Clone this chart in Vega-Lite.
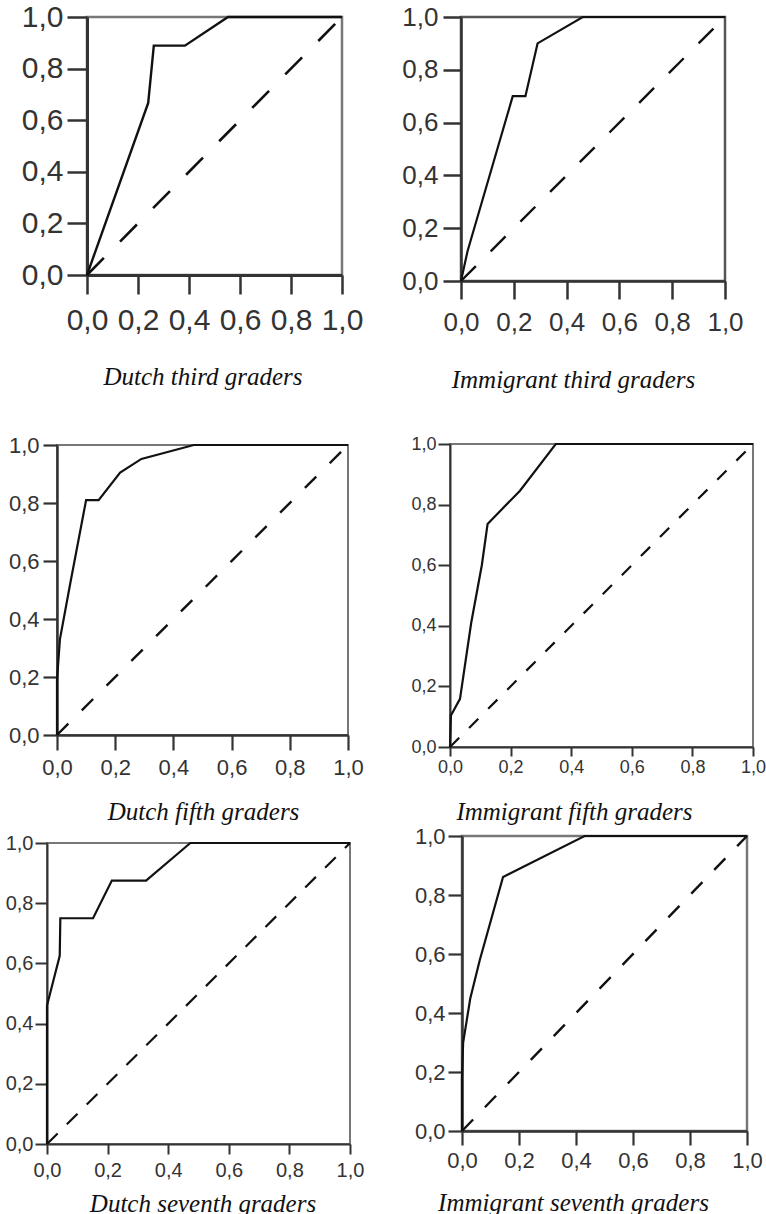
{
  "$schema": "https://vega.github.io/schema/vega-lite/v6.json",
  "padding": 0,
  "background": "white",
  "datasets": {
    "empty": [],
    "diag": [{"i": 0, "fpr": 0, "tpr": 0}, {"i": 1, "fpr": 1, "tpr": 1}],
    "dutch3": [
      {"i": 0, "fpr": 0, "tpr": 0}, {"i": 1, "fpr": 0.24, "tpr": 0.667}, {"i": 2, "fpr": 0.262, "tpr": 0.889},
      {"i": 3, "fpr": 0.384, "tpr": 0.889}, {"i": 4, "fpr": 0.553, "tpr": 1}, {"i": 5, "fpr": 1, "tpr": 1}
    ],
    "imm3": [
      {"i": 0, "fpr": 0, "tpr": 0}, {"i": 1, "fpr": 0.025, "tpr": 0.114}, {"i": 2, "fpr": 0.196, "tpr": 0.7},
      {"i": 3, "fpr": 0.244, "tpr": 0.7}, {"i": 4, "fpr": 0.29, "tpr": 0.9}, {"i": 5, "fpr": 0.461, "tpr": 1}, {"i": 6, "fpr": 1, "tpr": 1}
    ],
    "dutch5": [
      {"i": 0, "fpr": 0, "tpr": 0}, {"i": 1, "fpr": 0, "tpr": 0.19}, {"i": 2, "fpr": 0.01, "tpr": 0.33},
      {"i": 3, "fpr": 0.045, "tpr": 0.52}, {"i": 4, "fpr": 0.1, "tpr": 0.81}, {"i": 5, "fpr": 0.143, "tpr": 0.81},
      {"i": 6, "fpr": 0.217, "tpr": 0.905}, {"i": 7, "fpr": 0.29, "tpr": 0.952}, {"i": 8, "fpr": 0.47, "tpr": 1}, {"i": 9, "fpr": 1, "tpr": 1}
    ],
    "imm5": [
      {"i": 0, "fpr": 0, "tpr": 0}, {"i": 1, "fpr": 0.003, "tpr": 0.104}, {"i": 2, "fpr": 0.033, "tpr": 0.159},
      {"i": 3, "fpr": 0.07, "tpr": 0.41}, {"i": 4, "fpr": 0.105, "tpr": 0.6}, {"i": 5, "fpr": 0.124, "tpr": 0.736},
      {"i": 6, "fpr": 0.231, "tpr": 0.846}, {"i": 7, "fpr": 0.349, "tpr": 1}, {"i": 8, "fpr": 1, "tpr": 1}
    ],
    "dutch7": [
      {"i": 0, "fpr": 0, "tpr": 0}, {"i": 1, "fpr": 0, "tpr": 0.46}, {"i": 2, "fpr": 0.042, "tpr": 0.625},
      {"i": 3, "fpr": 0.044, "tpr": 0.75}, {"i": 4, "fpr": 0.152, "tpr": 0.75}, {"i": 5, "fpr": 0.214, "tpr": 0.875},
      {"i": 6, "fpr": 0.327, "tpr": 0.875}, {"i": 7, "fpr": 0.473, "tpr": 1}, {"i": 8, "fpr": 1, "tpr": 1}
    ],
    "imm7": [
      {"i": 0, "fpr": 0, "tpr": 0}, {"i": 1, "fpr": 0, "tpr": 0.18}, {"i": 2, "fpr": 0.004, "tpr": 0.3},
      {"i": 3, "fpr": 0.029, "tpr": 0.449}, {"i": 4, "fpr": 0.062, "tpr": 0.578}, {"i": 5, "fpr": 0.144, "tpr": 0.861},
      {"i": 6, "fpr": 0.43, "tpr": 1}, {"i": 7, "fpr": 1, "tpr": 1}
    ]
  },
  "vconcat": [
    {
      "hconcat": [
        {"width": 461, "height": 1, "view": {"stroke": null}, "data": {"name": "empty"}, "mark": "point", "encoding": {}},
        {
          "width": 264, "height": 264,
          "view": {"stroke": "#555", "strokeWidth": 2.5},
          "encoding": {
            "x": {"field": "fpr", "type": "quantitative", "scale": {"domain": [0, 1], "nice": false},
              "axis": {"values": [0, 0.2, 0.4, 0.6, 0.8, 1], "labelExpr": "replace(format(datum.value, '.1f'), '.', ',')",
                "labelFont": "Liberation Sans", "labelFontSize": 26, "labelColor": "#333", "labelPadding": 10,
                "labelOverlap": false, "labelFlush": false, "tickSize": 18, "tickWidth": 2.5, "tickColor": "#333",
                "domainColor": "#333", "domainWidth": 2.5, "grid": false,
                "title": "Immigrant third graders", "titleFont": "Liberation Serif", "titleFontStyle": "italic", "titleFontWeight": "normal",
                "titleFontSize": 25, "titleColor": "#111", "titleX": 112, "titleY": 106, "titleBaseline": "alphabetic", "titleAlign": "center"}},
            "y": {"field": "tpr", "type": "quantitative", "scale": {"domain": [0, 1], "nice": false},
              "axis": {"values": [0, 0.2, 0.4, 0.6, 0.8, 1], "labelExpr": "replace(format(datum.value, '.1f'), '.', ',')",
                "labelFont": "Liberation Sans", "labelFontSize": 26, "labelColor": "#333", "labelPadding": 5,
                "labelOverlap": false, "labelFlush": false, "tickSize": 18, "tickWidth": 2.5, "tickColor": "#333",
                "domainColor": "#333", "domainWidth": 2.5, "grid": false, "title": null}}
          },
          "layer": [
            {"data": {"name": "imm3"}, "mark": {"type": "line", "color": "#111", "strokeWidth": 2.2}, "encoding": {"order": {"field": "i"}}},
            {"data": {"name": "diag"}, "mark": {"type": "line", "color": "#111", "strokeWidth": 2.4, "strokeDash": [21, 21]}, "encoding": {"order": {"field": "i"}}}
          ]
        }
      ],
      "bounds": "flush", "spacing": 0
    },
    {
      "vconcat": [
        {
          "hconcat": [
            {"width": 87, "height": 1, "view": {"stroke": null}, "data": {"name": "empty"}, "mark": "point", "encoding": {}},
            {
              "width": 255, "height": 258,
              "view": {"stroke": "#777", "strokeWidth": 2.5},
              "encoding": {
                "x": {"field": "fpr", "type": "quantitative", "scale": {"domain": [0, 1], "nice": false},
                  "axis": {"values": [0, 0.2, 0.4, 0.6, 0.8, 1], "labelExpr": "replace(format(datum.value, '.1f'), '.', ',')",
                    "labelFont": "Liberation Sans", "labelFontSize": 30, "labelColor": "#333", "labelPadding": 11,
                    "labelOverlap": false, "labelFlush": false, "tickSize": 19, "tickWidth": 2.5, "tickColor": "#333",
                    "domainColor": "#333", "domainWidth": 3, "grid": false,
                    "title": "Dutch third graders", "titleFont": "Liberation Serif", "titleFontStyle": "italic", "titleFontWeight": "normal",
                    "titleFontSize": 25, "titleColor": "#111", "titleX": 115.5, "titleY": 109, "titleBaseline": "alphabetic", "titleAlign": "center"}},
                "y": {"field": "tpr", "type": "quantitative", "scale": {"domain": [0, 1], "nice": false},
                  "axis": {"values": [0, 0.2, 0.4, 0.6, 0.8, 1], "labelExpr": "replace(format(datum.value, '.1f'), '.', ',')",
                    "labelFont": "Liberation Sans", "labelFontSize": 30, "labelColor": "#333", "labelPadding": 4,
                    "labelOverlap": false, "labelFlush": false, "tickSize": 20, "tickWidth": 2.5, "tickColor": "#333",
                    "domainColor": "#333", "domainWidth": 3, "grid": false, "title": null}}
              },
              "layer": [
                {"data": {"name": "dutch3"}, "mark": {"type": "line", "color": "#111", "strokeWidth": 2.4}, "encoding": {"order": {"field": "i"}}},
                {"data": {"name": "diag"}, "mark": {"type": "line", "color": "#111", "strokeWidth": 2.6, "strokeDash": [24, 23]}, "encoding": {"order": {"field": "i"}}}
              ]
            }
          ],
          "bounds": "flush", "spacing": 0
        },
        {
          "vconcat": [
            {
              "hconcat": [
                {"width": 450, "height": 1, "view": {"stroke": null}, "data": {"name": "empty"}, "mark": "point", "encoding": {}},
                {
                  "width": 303, "height": 303,
                  "view": {"stroke": "#777", "strokeWidth": 2},
                  "encoding": {
                    "x": {"field": "fpr", "type": "quantitative", "scale": {"domain": [0, 1], "nice": false},
                      "axis": {"values": [0, 0.2, 0.4, 0.6, 0.8, 1], "labelExpr": "replace(format(datum.value, '.1f'), '.', ',')",
                        "labelFont": "Liberation Sans", "labelFontSize": 18, "labelColor": "#333", "labelPadding": 2,
                        "labelOverlap": false, "labelFlush": false, "tickSize": 9, "tickWidth": 2, "tickColor": "#333",
                        "domainColor": "#333", "domainWidth": 2, "grid": false,
                        "title": "Immigrant fifth graders", "titleFont": "Liberation Serif", "titleFontStyle": "italic", "titleFontWeight": "normal",
                        "titleFontSize": 25, "titleColor": "#111", "titleX": 124, "titleY": 72, "titleBaseline": "alphabetic", "titleAlign": "center"}},
                    "y": {"field": "tpr", "type": "quantitative", "scale": {"domain": [0, 1], "nice": false},
                      "axis": {"values": [0, 0.2, 0.4, 0.6, 0.8, 1], "labelExpr": "replace(format(datum.value, '.1f'), '.', ',')",
                        "labelFont": "Liberation Sans", "labelFontSize": 18, "labelColor": "#333", "labelPadding": 2,
                        "labelOverlap": false, "labelFlush": false, "tickSize": 12, "tickWidth": 2, "tickColor": "#333",
                        "domainColor": "#333", "domainWidth": 2, "grid": false, "title": null}}
                  },
                  "layer": [
                    {"data": {"name": "imm5"}, "mark": {"type": "line", "color": "#111", "strokeWidth": 2.2}, "encoding": {"order": {"field": "i"}}},
                    {"data": {"name": "diag"}, "mark": {"type": "line", "color": "#111", "strokeWidth": 2.2, "strokeDash": [13, 14]}, "encoding": {"order": {"field": "i"}}}
                  ]
                }
              ],
              "bounds": "flush", "spacing": 0
            },
            {
              "vconcat": [
                {
                  "hconcat": [
                    {"width": 57, "height": 1, "view": {"stroke": null}, "data": {"name": "empty"}, "mark": "point", "encoding": {}},
                    {
                      "width": 291, "height": 290,
                      "view": {"stroke": "#777", "strokeWidth": 2},
                      "encoding": {
                        "x": {"field": "fpr", "type": "quantitative", "scale": {"domain": [0, 1], "nice": false},
                          "axis": {"values": [0, 0.2, 0.4, 0.6, 0.8, 1], "labelExpr": "replace(format(datum.value, '.1f'), '.', ',')",
                            "labelFont": "Liberation Sans", "labelFontSize": 22, "labelColor": "#333", "labelPadding": 7,
                            "labelOverlap": false, "labelFlush": false, "tickSize": 15, "tickWidth": 2.2, "tickColor": "#333",
                            "domainColor": "#333", "domainWidth": 2.5, "grid": false,
                            "title": "Dutch fifth graders", "titleFont": "Liberation Serif", "titleFontStyle": "italic", "titleFontWeight": "normal",
                            "titleFontSize": 25, "titleColor": "#111", "titleX": 146, "titleY": 84, "titleBaseline": "alphabetic", "titleAlign": "center"}},
                        "y": {"field": "tpr", "type": "quantitative", "scale": {"domain": [0, 1], "nice": false},
                          "axis": {"values": [0, 0.2, 0.4, 0.6, 0.8, 1], "labelExpr": "replace(format(datum.value, '.1f'), '.', ',')",
                            "labelFont": "Liberation Sans", "labelFontSize": 22, "labelColor": "#333", "labelPadding": 4,
                            "labelOverlap": false, "labelFlush": false, "tickSize": 14, "tickWidth": 2.2, "tickColor": "#333",
                            "domainColor": "#333", "domainWidth": 2.5, "grid": false, "title": null}}
                      },
                      "layer": [
                        {"data": {"name": "dutch5"}, "mark": {"type": "line", "color": "#111", "strokeWidth": 2.2}, "encoding": {"order": {"field": "i"}}},
                        {"data": {"name": "diag"}, "mark": {"type": "line", "color": "#111", "strokeWidth": 2.4, "strokeDash": [16, 19]}, "encoding": {"order": {"field": "i"}}}
                      ]
                    }
                  ],
                  "bounds": "flush", "spacing": 0
                },
                {
                  "vconcat": [
                    {
                      "hconcat": [
                        {"width": 462, "height": 1, "view": {"stroke": null}, "data": {"name": "empty"}, "mark": "point", "encoding": {}},
                        {
                          "width": 285, "height": 295,
                          "view": {"stroke": "#777", "strokeWidth": 2.5},
                          "encoding": {
                            "x": {"field": "fpr", "type": "quantitative", "scale": {"domain": [0, 1], "nice": false},
                              "axis": {"values": [0, 0.2, 0.4, 0.6, 0.8, 1], "labelExpr": "replace(format(datum.value, '.1f'), '.', ',')",
                                "labelFont": "Liberation Sans", "labelFontSize": 22, "labelColor": "#333", "labelPadding": 5,
                                "labelOverlap": false, "labelFlush": false, "tickSize": 14, "tickWidth": 2.2, "tickColor": "#333",
                                "domainColor": "#333", "domainWidth": 2.5, "grid": false,
                                "title": "Immigrant seventh graders", "titleFont": "Liberation Serif", "titleFontStyle": "italic", "titleFontWeight": "normal",
                                "titleFontSize": 25, "titleColor": "#111", "titleX": 111, "titleY": 79, "titleBaseline": "alphabetic", "titleAlign": "center"}},
                            "y": {"field": "tpr", "type": "quantitative", "scale": {"domain": [0, 1], "nice": false},
                              "axis": {"values": [0, 0.2, 0.4, 0.6, 0.8, 1], "labelExpr": "replace(format(datum.value, '.1f'), '.', ',')",
                                "labelFont": "Liberation Sans", "labelFontSize": 22, "labelColor": "#333", "labelPadding": 3,
                                "labelOverlap": false, "labelFlush": false, "tickSize": 14, "tickWidth": 2.2, "tickColor": "#333",
                                "domainColor": "#333", "domainWidth": 2.5, "grid": false, "title": null}}
                          },
                          "layer": [
                            {"data": {"name": "imm7"}, "mark": {"type": "line", "color": "#111", "strokeWidth": 2.2}, "encoding": {"order": {"field": "i"}}},
                            {"data": {"name": "diag"}, "mark": {"type": "line", "color": "#111", "strokeWidth": 2.4, "strokeDash": [16, 17]}, "encoding": {"order": {"field": "i"}}}
                          ]
                        }
                      ],
                      "bounds": "flush", "spacing": 0
                    },
                    {
                      "hconcat": [
                        {"width": 47, "height": 1, "view": {"stroke": null}, "data": {"name": "empty"}, "mark": "point", "encoding": {}},
                        {
                          "width": 303, "height": 301,
                          "view": {"stroke": "#777", "strokeWidth": 2},
                          "encoding": {
                            "x": {"field": "fpr", "type": "quantitative", "scale": {"domain": [0, 1], "nice": false},
                              "axis": {"values": [0, 0.2, 0.4, 0.6, 0.8, 1], "labelExpr": "replace(format(datum.value, '.1f'), '.', ',')",
                                "labelFont": "Liberation Sans", "labelFontSize": 20, "labelColor": "#333", "labelPadding": 6,
                                "labelOverlap": false, "labelFlush": false, "tickSize": 10, "tickWidth": 2, "tickColor": "#333",
                                "domainColor": "#333", "domainWidth": 2, "grid": false,
                                "title": "Dutch seventh graders", "titleFont": "Liberation Serif", "titleFontStyle": "italic", "titleFontWeight": "normal",
                                "titleFontSize": 25, "titleColor": "#111", "titleX": 155.5, "titleY": 67, "titleBaseline": "alphabetic", "titleAlign": "center"}},
                            "y": {"field": "tpr", "type": "quantitative", "scale": {"domain": [0, 1], "nice": false},
                              "axis": {"values": [0, 0.2, 0.4, 0.6, 0.8, 1], "labelExpr": "replace(format(datum.value, '.1f'), '.', ',')",
                                "labelFont": "Liberation Sans", "labelFontSize": 20, "labelColor": "#333", "labelPadding": 2,
                                "labelOverlap": false, "labelFlush": false, "tickSize": 12, "tickWidth": 2, "tickColor": "#333",
                                "domainColor": "#333", "domainWidth": 2, "grid": false, "title": null}}
                          },
                          "layer": [
                            {"data": {"name": "dutch7"}, "mark": {"type": "line", "color": "#111", "strokeWidth": 2.2}, "encoding": {"order": {"field": "i"}}},
                            {"data": {"name": "diag"}, "mark": {"type": "line", "color": "#111", "strokeWidth": 2.2, "strokeDash": [15, 13]}, "encoding": {"order": {"field": "i"}}}
                          ]
                        }
                      ],
                      "bounds": "flush", "spacing": 0
                    }
                  ],
                  "bounds": "flush", "spacing": 7
                }
              ],
              "bounds": "flush", "spacing": 391
            }
          ],
          "bounds": "flush", "spacing": 1
        }
      ],
      "bounds": "flush", "spacing": 427
    }
  ],
  "bounds": "flush",
  "spacing": 0
}
